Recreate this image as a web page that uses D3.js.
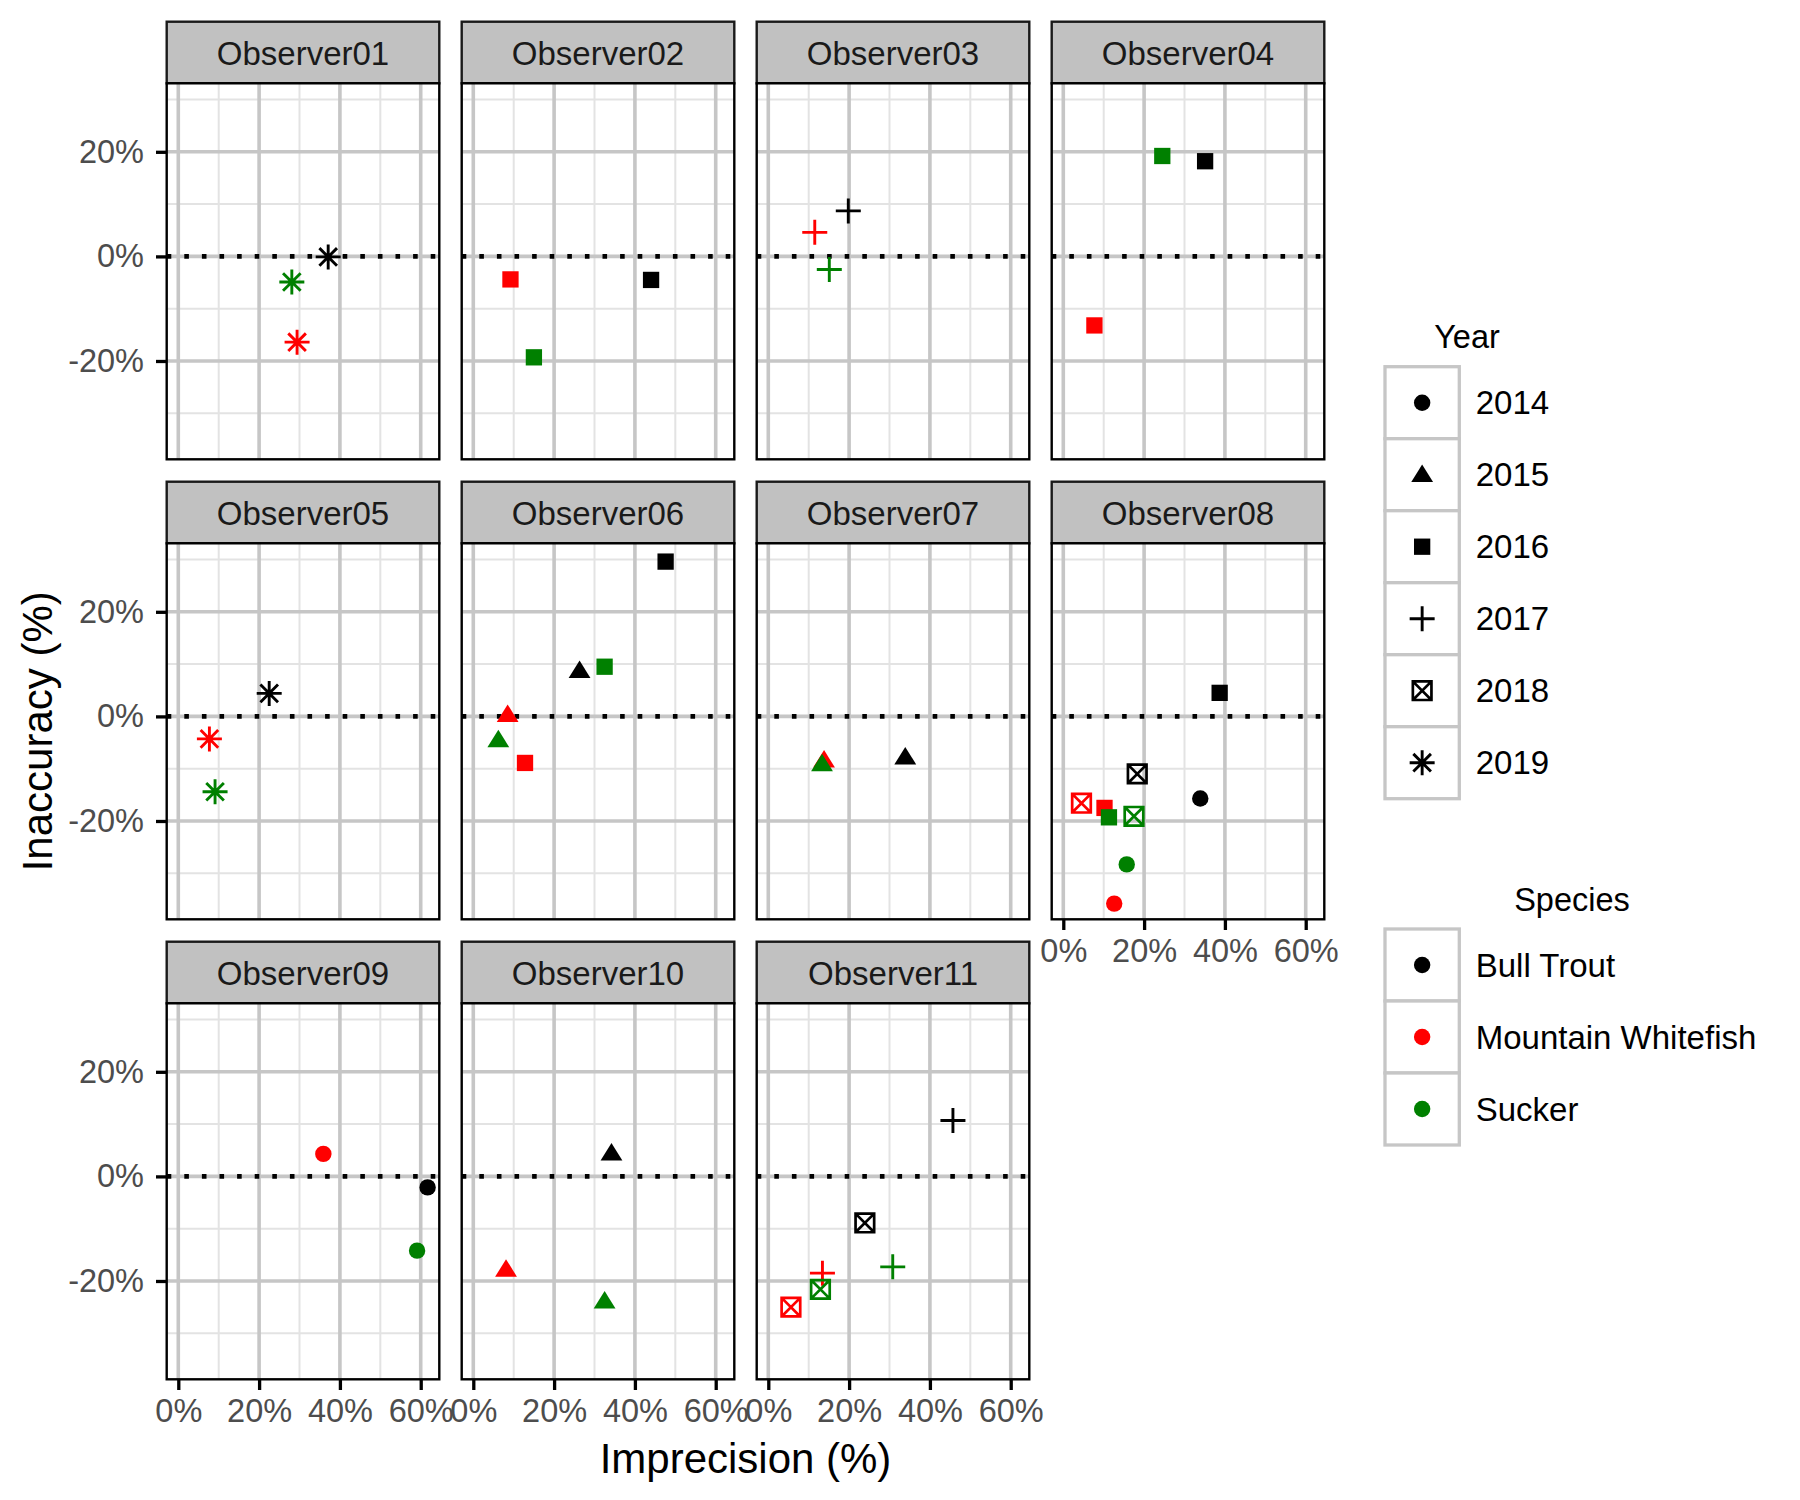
<!DOCTYPE html>
<html>
<head>
<meta charset="utf-8">
<script src="https://cdn.jsdelivr.net/npm/d3@7"></script>
<style>
  html, body { margin: 0; padding: 0; background: #fff; }
  svg { display: block; font-family: "Liberation Sans", Arial, Helvetica, sans-serif; }
</style>
</head>
<body>
<svg id="chart" width="1800" height="1500"></svg>
<script>
// ---------------- data ----------------
const observers = ["Observer01","Observer02","Observer03","Observer04","Observer05","Observer06",
                   "Observer07","Observer08","Observer09","Observer10","Observer11"];
const yearLevels = ["2014","2015","2016","2017","2018","2019"];
const speciesLevels = ["Bull Trout","Mountain Whitefish","Sucker"];
const speciesColors = ["#000000","#FF0000","#008000"];
const xMajorTicks = [0, 20, 40, 60];
const xMinorTicks = [10, 30, 50];
const yMajorTicks = [-20, 0, 20];
const yMinorTicks = [-30, -10, 10, 30];

// one entry per point
const pointObserver = [
  "Observer01","Observer01","Observer01",
  "Observer02","Observer02","Observer02",
  "Observer03","Observer03","Observer03",
  "Observer04","Observer04","Observer04",
  "Observer05","Observer05","Observer05",
  "Observer06","Observer06","Observer06","Observer06","Observer06","Observer06",
  "Observer07","Observer07","Observer07",
  "Observer08","Observer08","Observer08","Observer08","Observer08","Observer08","Observer08","Observer08","Observer08",
  "Observer09","Observer09","Observer09",
  "Observer10","Observer10","Observer10",
  "Observer11","Observer11","Observer11","Observer11","Observer11","Observer11"
];
const pointYear = [
  "2019","2019","2019",
  "2016","2016","2016",
  "2017","2017","2017",
  "2016","2016","2016",
  "2019","2019","2019",
  "2015","2016","2015","2016","2015","2016",
  "2015","2015","2015",
  "2014","2016","2018","2014","2016","2018","2014","2016","2018",
  "2014","2014","2014",
  "2015","2015","2015",
  "2017","2018","2017","2018","2017","2018"
];
const pointSpecies = [
  "Bull Trout","Mountain Whitefish","Sucker",
  "Bull Trout","Mountain Whitefish","Sucker",
  "Bull Trout","Mountain Whitefish","Sucker",
  "Bull Trout","Mountain Whitefish","Sucker",
  "Bull Trout","Mountain Whitefish","Sucker",
  "Bull Trout","Bull Trout","Mountain Whitefish","Mountain Whitefish","Sucker","Sucker",
  "Bull Trout","Mountain Whitefish","Sucker",
  "Bull Trout","Bull Trout","Bull Trout","Mountain Whitefish","Mountain Whitefish","Mountain Whitefish","Sucker","Sucker","Sucker",
  "Bull Trout","Mountain Whitefish","Sucker",
  "Bull Trout","Mountain Whitefish","Sucker",
  "Bull Trout","Bull Trout","Mountain Whitefish","Mountain Whitefish","Sucker","Sucker"
];
const imprecision = [
  37.1, 29.4, 28.1,
  44.0, 9.2, 15.0,
  19.8, 11.5, 15.1,
  35.1, 7.7, 24.5,
  22.5, 7.7, 9.1,
  26.3, 47.6, 8.5, 12.8, 6.2, 32.5,
  33.9, 13.8, 13.3,
  33.9, 38.7, 18.3, 12.6, 10.2, 4.5, 15.7, 11.3, 17.5,
  61.7, 35.9, 59.1,
  34.2, 8.1, 32.5,
  45.7, 23.9, 13.4, 5.6, 30.8, 12.9
];
const inaccuracy = [
  -0.1, -16.4, -4.9,
  -4.5, -4.4, -19.3,
  8.7, 4.6, -2.5,
  18.2, -13.2, 19.2,
  4.4, -4.3, -14.4,
  8.7, 29.6, 0.3, -8.9, -4.5, 9.5,
  -7.8, -8.4, -9.1,
  -15.7, 4.5, -11.0, -35.8, -17.5, -16.6, -28.3, -19.3, -19.1,
  -2.1, 4.3, -14.2,
  4.4, -17.8, -23.9,
  10.7, -8.9, -18.5, -25.0, -17.3, -21.6
];

const points = imprecision.map((x, i) => ({
  observer: pointObserver[i], year: pointYear[i], species: pointSpecies[i], x: x, y: inaccuracy[i]
}));

// ---------------- layout ----------------
const nCol = 4;
const panelX0 = 166.7, panelPitchX = 295, panelW = 272.6;
const stripY0 = 21.7, rowPitch = 460, stripH = 61.6, panelH = 376;
const tickLen = 10.7;

const svg = d3.select("#chart");
const FONT_SMALL = 32.5;

const x = d3.scaleLinear().domain([-2.87, 64.6]).range([0, panelW]);
const y = d3.scaleLinear().domain([-38.8, 33.1]).range([panelH, 0]);
const colorScale = d3.scaleOrdinal().domain(speciesLevels).range(speciesColors);

function shapePath(year) {
  switch (year) {
    case "2014": return d3.symbol().type(d3.symbolCircle).size(Math.PI * 8.2 * 8.2)();
    case "2015": return "M0,-10.3L10.9,7.2L-10.9,7.2Z";
    case "2016": return d3.symbol().type(d3.symbolSquare).size(16.3 * 16.3)();
    case "2017": return "M-12.5,0H12.5M0,-12.5V12.5";
    case "2018": return "M-9.3,-9.3H9.3V9.3H-9.3Z M-9.3,-9.3L9.3,9.3 M9.3,-9.3L-9.3,9.3";
    case "2019": return "M-12.5,0H12.5M0,-12.5V12.5M-8.8,-8.8L8.8,8.8M8.8,-8.8L-8.8,8.8";
  }
}
const filledYears = ["2014", "2015", "2016"];
function styleShape(sel, year, color) {
  if (filledYears.includes(year)) {
    sel.attr("fill", color).attr("stroke", "none");
  } else {
    sel.attr("fill", "none").attr("stroke", color)
       .attr("stroke-width", year === "2018" ? 2.7 : 2.9)
       .attr("stroke-linecap", "butt");
  }
}

observers.forEach((obs, i) => {
  const col = i % nCol, row = Math.floor(i / nCol);
  const left = panelX0 + col * panelPitchX;
  const stripTop = stripY0 + row * rowPitch;
  const top = stripTop + stripH;

  // strip
  svg.append("rect")
    .attr("x", left).attr("y", stripTop).attr("width", panelW).attr("height", stripH)
    .attr("fill", "#C1C1C1").attr("stroke", "#1a1a1a").attr("stroke-width", 2.4);
  svg.append("text")
    .attr("x", left + panelW / 2).attr("y", stripTop + 43.5)
    .attr("text-anchor", "middle").attr("font-size", 33).attr("fill", "#1A1A1A")
    .text(obs);

  const g = svg.append("g").attr("transform", `translate(${left},${top})`);
  g.append("rect").attr("width", panelW).attr("height", panelH).attr("fill", "#fff");

  // minor grid
  g.selectAll(".vminor").data(xMinorTicks).join("line")
    .attr("x1", d => x(d)).attr("x2", d => x(d)).attr("y1", 0).attr("y2", panelH)
    .attr("stroke", "#E3E3E3").attr("stroke-width", 2);
  g.selectAll(".hminor").data(yMinorTicks).join("line")
    .attr("y1", d => y(d)).attr("y2", d => y(d)).attr("x1", 0).attr("x2", panelW)
    .attr("stroke", "#E3E3E3").attr("stroke-width", 2);
  // major grid
  g.selectAll(".vmajor").data(xMajorTicks).join("line")
    .attr("x1", d => x(d)).attr("x2", d => x(d)).attr("y1", 0).attr("y2", panelH)
    .attr("stroke", "#C6C6C6").attr("stroke-width", 3.6);
  g.selectAll(".hmajor").data(yMajorTicks).join("line")
    .attr("y1", d => y(d)).attr("y2", d => y(d)).attr("x1", 0).attr("x2", panelW)
    .attr("stroke", "#C6C6C6").attr("stroke-width", 3.6);

  // dotted reference line at 0
  g.append("line")
    .attr("x1", 0).attr("x2", panelW).attr("y1", y(0)).attr("y2", y(0))
    .attr("stroke", "#000").attr("stroke-width", 4.6)
    .attr("stroke-dasharray", "4.6 13");

  // points
  const pts = points.filter(p => p.observer === obs);
  pts.forEach(p => {
    const path = g.append("path")
      .attr("d", shapePath(p.year))
      .attr("transform", `translate(${x(p.x)},${y(p.y)})`);
    styleShape(path, p.year, colorScale(p.species));
  });

  // panel border
  g.append("rect").attr("width", panelW).attr("height", panelH)
    .attr("fill", "none").attr("stroke", "#000").attr("stroke-width", 2.4);

  // y axis on first column
  if (col === 0) {
    const ya = g.append("g").call(
      d3.axisLeft(y).tickValues(yMajorTicks).tickSize(tickLen).tickPadding(12)
        .tickFormat(d => d + "%"));
    ya.select(".domain").remove();
    ya.selectAll(".tick line").attr("stroke", "#000").attr("stroke-width", 3.3);
    ya.selectAll(".tick text").attr("font-size", FONT_SMALL).attr("fill", "#4D4D4D")
      .attr("font-family", "Liberation Sans, Arial, sans-serif");
  }
  // x axis on bottom-most panel of each column
  const below = i + nCol;
  if (below >= observers.length) {
    const xa = g.append("g").attr("transform", `translate(0,${panelH})`).call(
      d3.axisBottom(x).tickValues(xMajorTicks).tickSize(tickLen).tickPadding(9)
        .tickFormat(d => d + "%"));
    xa.select(".domain").remove();
    xa.selectAll(".tick line").attr("stroke", "#000").attr("stroke-width", 3.3);
    xa.selectAll(".tick text").attr("font-size", FONT_SMALL).attr("fill", "#4D4D4D")
      .attr("font-family", "Liberation Sans, Arial, sans-serif");
  }
});

// axis titles
svg.append("text")
  .attr("x", panelX0 + (3 * panelPitchX + panelW) / 2).attr("y", 1473)
  .attr("text-anchor", "middle").attr("font-size", 42).attr("fill", "#000")
  .text("Imprecision (%)");
svg.append("text")
  .attr("transform", `translate(52,${(stripY0 + stripH + 2 * rowPitch + stripY0 + stripH + panelH) / 2}) rotate(-90)`)
  .attr("text-anchor", "middle").attr("font-size", 42).attr("fill", "#000")
  .text("Inaccuracy (%)");

// ---------------- legends ----------------
const keyX = 1385, keyW = 74.3, keyH = 72, labelX = 1475.7;
function legend(title, titleCenterX, titleBaseline, keysTop, labels, drawKey) {
  svg.append("text").attr("x", titleCenterX).attr("y", titleBaseline)
    .attr("text-anchor", "middle").attr("font-size", 32.5).attr("fill", "#000").text(title);
  labels.forEach((lab, k) => {
    const ky = keysTop + k * keyH;
    svg.append("rect").attr("x", keyX).attr("y", ky).attr("width", keyW).attr("height", keyH)
      .attr("fill", "#fff").attr("stroke", "#C6C6C6").attr("stroke-width", 3.3);
    drawKey(lab, k, keyX + keyW / 2, ky + keyH / 2);
    svg.append("text").attr("x", labelX).attr("y", ky + keyH / 2 + 11.7)
      .attr("font-size", 33).attr("fill", "#000").text(lab);
  });
}
legend("Year", 1467, 348.3, 366.7, yearLevels, (lab, k, cx, cy) => {
  const p = svg.append("path").attr("d", shapePath(lab)).attr("transform", `translate(${cx},${cy})`);
  styleShape(p, lab, "#000");
});
legend("Species", 1572, 910.5, 929, speciesLevels, (lab, k, cx, cy) => {
  svg.append("path").attr("d", shapePath("2014")).attr("transform", `translate(${cx},${cy})`)
    .attr("fill", colorScale(lab));
});
</script>
</body>
</html>
